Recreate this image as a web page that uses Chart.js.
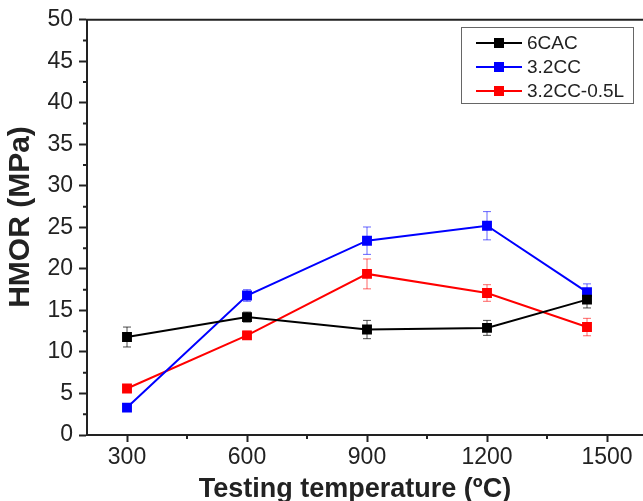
<!DOCTYPE html>
<html>
<head>
<meta charset="utf-8">
<script src="https://cdn.jsdelivr.net/npm/chart.js@4/dist/chart.umd.min.js"></script>
<style>
  html, body { margin: 0; padding: 0; background: #fff; overflow: hidden; }
</style>
</head>
<body>
<canvas id="chart" width="680" height="501"></canvas>
<script>
// values
const temps = [300, 600, 900, 1200, 1450];
const xTicks = [300, 600, 900, 1200, 1500];
const xMinor = [450, 750, 1050, 1350, 1650];
const seriesNames = ['6CAC', '3.2CC', '3.2CC-0.5L'];
const cac6 = [11.8, 14.2, 12.7, 12.9, 16.3];
const cac6Err = [1.2, 0.6, 1.1, 0.9, 1.0];
const cc32 = [3.3, 16.8, 23.4, 25.2, 17.2];
const cc32Err = [0.3, 0.7, 1.65, 1.7, 1.0];
const cc32L = [5.6, 12.0, 19.4, 17.1, 13.0];
const cc32LErr = [0.3, 0.5, 1.8, 1.0, 1.05];

const colors = ['#000000', '#0000ff', '#ff0000'];
const errColors = ['rgba(0,0,0,0.7)', 'rgba(0,0,255,0.6)', 'rgba(255,0,0,0.6)'];
const values = [cac6, cc32, cc32L];
const errors = [cac6Err, cc32Err, cc32LErr];
const axisColor = '#222';
const fontFam = '"Liberation Sans", Arial, sans-serif';

const toPoints = (arr) => temps.map((t, i) => ({ x: t, y: arr[i] }));

// error bars, minor ticks, frame, titles and legend
const extras = {
  id: 'extras',
  beforeDatasetsDraw(chart) {
    const ctx = chart.ctx;
    const x = chart.scales.x, y = chart.scales.y;
    ctx.save();
    ctx.lineWidth = 1;
    values.forEach((vals, s) => {
      ctx.strokeStyle = errColors[s];
      vals.forEach((v, i) => {
        const px = x.getPixelForValue(temps[i]);
        const top = y.getPixelForValue(v + errors[s][i]);
        const bot = y.getPixelForValue(v - errors[s][i]);
        ctx.beginPath();
        ctx.moveTo(px, top); ctx.lineTo(px, bot);
        ctx.moveTo(px - 4, top); ctx.lineTo(px + 4, top);
        ctx.moveTo(px - 4, bot); ctx.lineTo(px + 4, bot);
        ctx.stroke();
      });
    });
    ctx.restore();
  },
  afterDraw(chart) {
    const ctx = chart.ctx;
    const a = chart.chartArea;
    const x = chart.scales.x, y = chart.scales.y;
    ctx.save();
    ctx.strokeStyle = axisColor;
    ctx.lineWidth = 2;
    // top and right frame
    ctx.beginPath();
    ctx.moveTo(a.left - 1, a.top); ctx.lineTo(a.right, a.top); ctx.lineTo(a.right, a.bottom);
    ctx.stroke();
    // minor ticks
    ctx.beginPath();
    xMinor.forEach(v => {
      const px = x.getPixelForValue(v);
      ctx.moveTo(px, a.bottom); ctx.lineTo(px, a.bottom + 4);
    });
    for (let v = 2.5; v < 50; v += 5) {
      const py = y.getPixelForValue(v);
      ctx.moveTo(a.left, py); ctx.lineTo(a.left - 4, py);
    }
    ctx.stroke();

    // axis titles
    ctx.fillStyle = axisColor;
    ctx.font = 'bold 27px ' + fontFam;
    ctx.textAlign = 'center';
    ctx.textBaseline = 'alphabetic';
    ctx.fillText('Testing temperature (ºC)', 355, 497);
    ctx.save();
    ctx.translate(21, 217);
    ctx.rotate(-Math.PI / 2);
    ctx.font = 'bold 30px ' + fontFam;
    ctx.textBaseline = 'middle';
    ctx.fillText('HMOR (MPa)', 0, 0);
    ctx.restore();

    // legend
    const lx = 461, ly = 27, lw = 172, lh = 76;
    ctx.fillStyle = '#fff';
    ctx.fillRect(lx, ly, lw, lh);
    ctx.strokeStyle = '#666';
    ctx.lineWidth = 1;
    ctx.strokeRect(lx + 0.5, ly + 0.5, lw, lh);
    ctx.font = '19px ' + fontFam;
    ctx.textAlign = 'left';
    ctx.textBaseline = 'middle';
    seriesNames.forEach((name, i) => {
      const ry = 43 + i * 24;
      ctx.strokeStyle = colors[i];
      ctx.lineWidth = 2;
      ctx.beginPath();
      ctx.moveTo(476, ry); ctx.lineTo(522, ry);
      ctx.stroke();
      ctx.fillStyle = colors[i];
      ctx.fillRect(494, ry - 5, 10, 10);
      ctx.fillStyle = axisColor;
      ctx.fillText(name, 527, ry + 1);
    });
    ctx.restore();
  }
};

new Chart(document.getElementById('chart'), {
  type: 'line',
  data: {
    datasets: seriesNames.map((name, s) => ({
      label: name,
      data: toPoints(values[s]),
      borderColor: colors[s],
      backgroundColor: colors[s],
      borderWidth: 2,
      pointStyle: 'rect',
      pointRadius: 7,
      pointHoverRadius: 7,
      pointBorderWidth: 0,
      tension: 0
    }))
  },
  options: {
    responsive: false,
    animation: false,
    layout: { padding: { top: 16, right: 13, left: 0, bottom: 0 } },
    plugins: { legend: { display: false }, tooltip: { enabled: false } },
    scales: {
      x: {
        type: 'linear',
        min: 200,
        max: 1650,
        afterBuildTicks(scale) { scale.ticks = xTicks.map(v => ({ value: v })); },
        afterFit(scale) { scale.height = 66; },
        ticks: {
          color: axisColor,
          font: { family: fontFam, size: 23 },
          padding: 2,
          maxRotation: 0,
          autoSkip: false,
          callback: (v) => String(v)
        },
        grid: { drawOnChartArea: false, tickLength: 7, tickWidth: 2, tickColor: axisColor },
        border: { color: axisColor, width: 2 }
      },
      y: {
        min: 0,
        max: 50,
        afterFit(scale) { scale.width = 87; },
        ticks: {
          stepSize: 5,
          color: axisColor,
          font: { family: fontFam, size: 23 },
          padding: 6
        },
        grid: { drawOnChartArea: false, tickLength: 8, tickWidth: 2, tickColor: axisColor },
        border: { color: axisColor, width: 2 }
      }
    }
  },
  plugins: [extras]
});
</script>
</body>
</html>
